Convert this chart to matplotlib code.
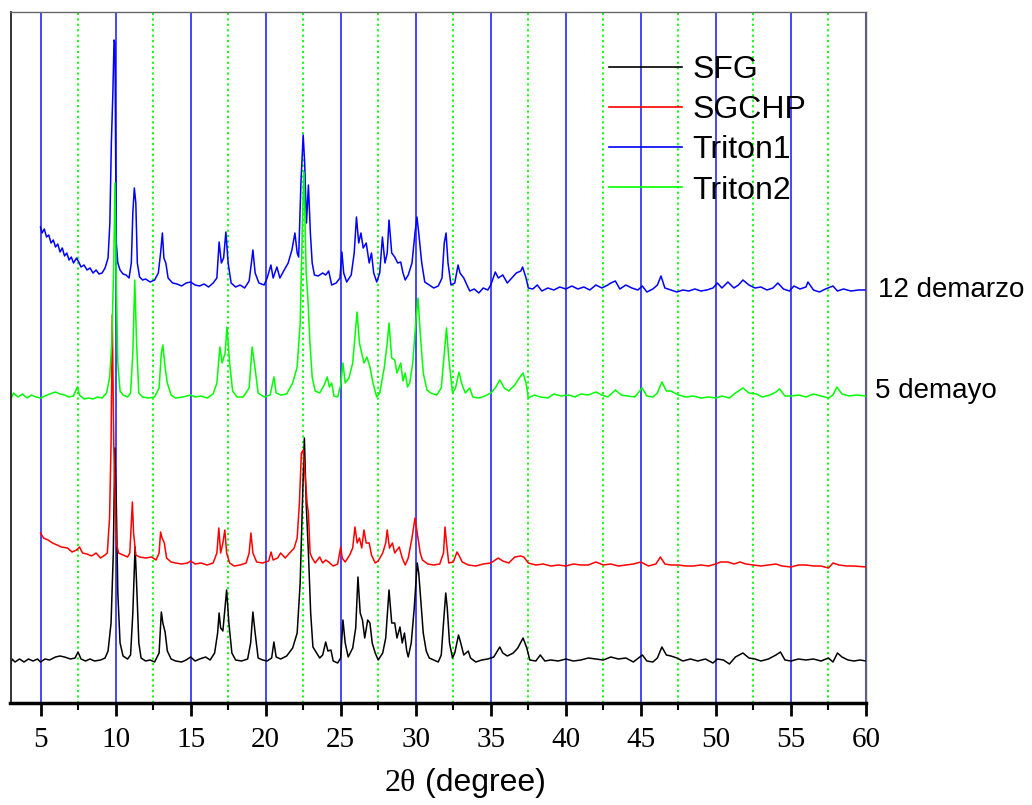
import numpy as np
import matplotlib
matplotlib.use("Agg")
import matplotlib.pyplot as plt
from matplotlib.ticker import MultipleLocator

# ---------------- data (2theta in degrees, intensity in a.u., curves already offset) -------------
sfg_points = [
    (3.0, 38), (3.1, 44), (3.3, 41), (3.6, 44), (3.9, 41), (4.2, 44), (4.5, 42), (4.8, 44), (5.0, 41),
    (5.3, 44), (5.6, 43), (6.0, 46), (6.3, 47), (6.6, 46), (7.0, 44), (7.3, 45), (7.5, 51), (7.7, 44),
    (8.0, 42), (8.3, 44), (8.6, 42), (9.0, 43), (9.3, 45), (9.5, 52), (9.7, 80), (9.85, 150), (9.95, 255),
    (10.05, 200), (10.15, 110), (10.3, 60), (10.5, 47), (10.8, 44), (11.0, 48), (11.15, 90), (11.3, 156),
    (11.4, 120), (11.55, 60), (11.7, 45), (12.0, 42), (12.3, 43), (12.6, 41), (12.9, 50), (13.05, 91),
    (13.15, 80), (13.3, 71), (13.45, 52), (13.7, 44), (14.0, 42), (14.4, 41), (14.7, 43), (15.0, 46),
    (15.3, 42), (15.6, 44), (16.0, 46), (16.3, 43), (16.6, 50), (16.8, 70), (16.9, 90), (17.0, 75),
    (17.15, 72), (17.4, 113), (17.55, 80), (17.75, 50), (18.0, 43), (18.4, 42), (18.8, 44), (19.0, 60),
    (19.15, 91), (19.3, 70), (19.5, 45), (19.8, 43), (20.1, 42), (20.4, 45), (20.55, 61), (20.7, 46),
    (21.0, 44), (21.4, 47), (21.8, 55), (22.1, 70), (22.3, 120), (22.45, 200), (22.58, 265), (22.7, 200),
    (22.85, 150), (23.0, 90), (23.15, 56), (23.4, 50), (23.6, 45), (23.8, 48), (24.0, 61), (24.15, 52),
    (24.35, 53), (24.5, 42), (24.8, 40), (25.0, 45), (25.15, 83), (25.3, 60), (25.5, 46), (25.8, 55),
    (26.0, 75), (26.15, 126), (26.3, 90), (26.45, 83), (26.6, 65), (26.8, 83), (26.95, 80), (27.1, 60),
    (27.3, 50), (27.5, 43), (27.8, 50), (28.0, 65), (28.22, 113), (28.4, 80), (28.6, 80), (28.75, 65),
    (28.95, 76), (29.1, 60), (29.25, 70), (29.4, 52), (29.5, 46), (29.7, 60), (29.9, 95), (30.1, 140),
    (30.2, 130), (30.35, 100), (30.5, 70), (30.7, 52), (30.9, 45), (31.2, 43), (31.5, 41), (31.7, 48),
    (31.85, 80), (32.0, 110), (32.1, 95), (32.25, 60), (32.45, 45), (32.6, 50), (32.85, 68), (33.0, 60),
    (33.2, 48), (33.5, 52), (33.65, 45), (34.0, 41), (34.4, 43), (34.8, 44), (35.2, 46), (35.6, 56),
    (35.8, 50), (36.1, 47), (36.5, 50), (36.8, 55), (37.15, 65), (37.4, 55), (37.6, 43), (38.0, 42),
    (38.3, 48), (38.6, 42), (39.0, 43), (39.5, 42), (40.0, 44), (40.5, 42), (41.0, 43), (41.5, 45),
    (42.0, 44), (42.5, 43), (43.0, 46), (43.5, 44), (44.0, 45), (44.5, 41), (45.1, 48), (45.4, 42),
    (45.8, 41), (46.1, 45), (46.4, 56), (46.7, 48), (47.0, 47), (47.4, 45), (47.8, 42), (48.3, 44),
    (48.8, 42), (49.3, 44), (49.8, 40), (50.1, 44), (50.5, 43), (50.9, 39), (51.3, 46), (51.8, 50),
    (52.2, 45), (52.6, 44), (53.0, 42), (53.5, 44), (54.0, 48), (54.3, 51), (54.6, 43), (55.0, 42),
    (55.5, 44), (56.0, 43), (56.5, 44), (57.0, 42), (57.5, 45), (57.8, 41), (58.1, 50), (58.4, 46),
    (58.8, 43), (59.2, 42), (59.6, 43), (60.0, 42),
]

sgchp_points = [
    (5.0, 170), (5.2, 165), (5.5, 163), (5.8, 160), (6.1, 158), (6.4, 156), (6.8, 155), (7.1, 151),
    (7.4, 153), (7.6, 156), (7.8, 150), (8.1, 149), (8.4, 147), (8.7, 150), (9.0, 145), (9.3, 148),
    (9.45, 150), (9.6, 185), (9.7, 260), (9.78, 388), (9.88, 260), (9.98, 200), (10.05, 160), (10.2, 150),
    (10.5, 148), (10.8, 146), (10.95, 150), (11.05, 180), (11.12, 201), (11.2, 170), (11.35, 148),
    (11.6, 146), (12.0, 145), (12.4, 146), (12.7, 143), (12.9, 150), (13.0, 171), (13.1, 165),
    (13.25, 160), (13.4, 145), (13.7, 141), (14.0, 140), (14.4, 139), (14.8, 140), (15.0, 142),
    (15.3, 139), (15.7, 140), (16.1, 138), (16.5, 140), (16.75, 150), (16.88, 175), (17.0, 150),
    (17.15, 160), (17.28, 173), (17.4, 150), (17.6, 140), (17.9, 137), (18.3, 138), (18.7, 140),
    (18.9, 150), (19.02, 170), (19.15, 150), (19.4, 141), (19.8, 140), (20.2, 142), (20.36, 151),
    (20.5, 143), (20.8, 145), (21.0, 150), (21.3, 145), (21.6, 150), (21.9, 155), (22.1, 165),
    (22.25, 200), (22.38, 250), (22.5, 253), (22.62, 230), (22.76, 200), (22.85, 190), (22.96, 150),
    (23.1, 145), (23.3, 140), (23.6, 146), (23.8, 140), (24.0, 143), (24.2, 141), (24.5, 137),
    (24.8, 139), (25.0, 156), (25.1, 145), (25.3, 141), (25.6, 148), (25.8, 155), (25.95, 176),
    (26.1, 160), (26.25, 165), (26.4, 155), (26.55, 173), (26.7, 160), (26.9, 160), (27.05, 148),
    (27.3, 140), (27.5, 142), (27.8, 150), (28.0, 160), (28.1, 173), (28.25, 155), (28.45, 160),
    (28.6, 150), (28.9, 156), (29.1, 145), (29.3, 138), (29.5, 145), (29.75, 165), (29.95, 185),
    (30.1, 170), (30.3, 150), (30.45, 143), (30.8, 139), (31.2, 138), (31.6, 139), (31.85, 150),
    (31.95, 176), (32.05, 160), (32.2, 140), (32.5, 141), (32.75, 151), (32.9, 147), (33.1, 141),
    (33.5, 138), (34.0, 137), (34.5, 139), (35.0, 140), (35.5, 145), (35.8, 142), (36.2, 140),
    (36.6, 146), (37.0, 147), (37.2, 146), (37.5, 140), (38.0, 138), (38.5, 139), (39.0, 137),
    (39.5, 138), (40.0, 137), (40.5, 139), (41.0, 138), (41.5, 138), (42.0, 141), (42.5, 138),
    (43.0, 139), (43.5, 137), (44.0, 138), (44.5, 139), (45.0, 141), (45.5, 137), (46.0, 139),
    (46.3, 146), (46.6, 139), (47.0, 138), (47.5, 138), (48.0, 137), (48.5, 137), (49.0, 138),
    (49.5, 137), (50.0, 139), (50.3, 141), (50.8, 141), (51.2, 139), (51.6, 141), (52.0, 139),
    (52.5, 138), (53.0, 137), (53.5, 138), (54.0, 139), (54.4, 137), (55.0, 136), (55.5, 138),
    (56.0, 138), (56.5, 137), (57.0, 137), (57.5, 135), (57.8, 140), (58.2, 138), (58.7, 137),
    (59.2, 137), (60.0, 136),
]

triton1_points = [
    (5.0, 476), (5.1, 470), (5.25, 474), (5.4, 466), (5.55, 468), (5.7, 460), (5.85, 463), (6.0, 456),
    (6.15, 459), (6.3, 451), (6.45, 455), (6.6, 447), (6.75, 450), (6.9, 443), (7.05, 446), (7.2, 440),
    (7.4, 445), (7.55, 441), (7.7, 436), (7.9, 438), (8.1, 433), (8.3, 435), (8.5, 430), (8.7, 433),
    (8.9, 429), (9.1, 430), (9.3, 435), (9.5, 445), (9.62, 480), (9.72, 560), (9.82, 610), (9.9, 663),
    (9.96, 660), (10.0, 560), (10.05, 460), (10.15, 440), (10.3, 433), (10.5, 429), (10.7, 428),
    (10.9, 425), (11.05, 440), (11.15, 490), (11.25, 515), (11.35, 500), (11.45, 440), (11.6, 426),
    (11.8, 423), (12.0, 424), (12.3, 421), (12.6, 423), (12.85, 430), (13.0, 450), (13.12, 470),
    (13.22, 445), (13.35, 440), (13.5, 425), (13.8, 420), (14.1, 419), (14.4, 417), (14.7, 420),
    (15.0, 421), (15.3, 418), (15.6, 417), (15.9, 419), (16.2, 416), (16.5, 420), (16.75, 425),
    (16.9, 461), (17.05, 440), (17.2, 445), (17.35, 471), (17.5, 440), (17.7, 420), (18.0, 416),
    (18.3, 418), (18.6, 415), (18.9, 422), (19.05, 440), (19.15, 453), (19.3, 430), (19.55, 420),
    (19.9, 418), (20.1, 425), (20.35, 438), (20.5, 425), (20.75, 436), (20.95, 425), (21.2, 432),
    (21.5, 440), (21.75, 453), (21.95, 470), (22.1, 450), (22.2, 446), (22.35, 520), (22.5, 568),
    (22.6, 540), (22.72, 480), (22.85, 518), (22.98, 470), (23.1, 440), (23.25, 428), (23.5, 427),
    (23.8, 430), (24.0, 428), (24.2, 432), (24.4, 418), (24.7, 420), (24.95, 425), (25.08, 451),
    (25.2, 430), (25.4, 421), (25.7, 428), (25.9, 450), (26.05, 486), (26.2, 460), (26.35, 470),
    (26.5, 455), (26.7, 460), (26.9, 440), (27.05, 450), (27.2, 430), (27.4, 421), (27.6, 430),
    (27.78, 466), (27.95, 440), (28.1, 450), (28.22, 483), (28.4, 450), (28.6, 446), (28.8, 440),
    (29.0, 441), (29.15, 430), (29.3, 423), (29.5, 428), (29.75, 440), (29.95, 470), (30.08, 486),
    (30.2, 470), (30.4, 440), (30.6, 421), (30.9, 418), (31.2, 415), (31.5, 417), (31.75, 425),
    (31.9, 460), (32.02, 470), (32.15, 440), (32.35, 418), (32.6, 420), (32.82, 438), (32.95, 430),
    (33.2, 425), (33.35, 420), (33.6, 412), (33.9, 414), (34.2, 410), (34.5, 415), (34.8, 413),
    (35.0, 418), (35.3, 431), (35.5, 425), (35.8, 428), (36.1, 420), (36.4, 425), (36.7, 430),
    (37.0, 432), (37.12, 436), (37.35, 425), (37.5, 415), (37.8, 414), (38.1, 418), (38.4, 412),
    (38.8, 415), (39.2, 413), (39.6, 416), (40.0, 414), (40.4, 417), (40.8, 414), (41.2, 416),
    (41.6, 413), (42.0, 418), (42.4, 415), (42.8, 418), (43.0, 420), (43.3, 422), (43.6, 414),
    (44.0, 418), (44.4, 415), (44.8, 413), (45.1, 417), (45.4, 411), (45.8, 414), (46.1, 418),
    (46.34, 427), (46.6, 415), (47.0, 413), (47.4, 411), (47.8, 413), (48.2, 412), (48.6, 414),
    (49.0, 412), (49.4, 413), (49.8, 415), (50.1, 420), (50.4, 415), (50.8, 421), (51.2, 415),
    (51.5, 418), (51.8, 423), (52.2, 418), (52.6, 415), (53.0, 416), (53.4, 413), (53.8, 415),
    (54.13, 420), (54.5, 414), (54.9, 412), (55.2, 417), (55.6, 414), (56.0, 416), (56.13, 421),
    (56.5, 413), (56.9, 411), (57.3, 414), (57.8, 417), (58.1, 412), (58.5, 414), (59.0, 412),
    (59.5, 413), (60.0, 413),
]

triton2_points = [
    (3.0, 303), (3.2, 310), (3.5, 306), (3.8, 309), (4.1, 305), (4.4, 308), (4.7, 306), (5.0, 305),
    (5.3, 307), (5.6, 309), (6.0, 311), (6.3, 309), (6.6, 308), (6.9, 306), (7.2, 307), (7.45, 316),
    (7.6, 308), (7.9, 304), (8.2, 305), (8.5, 304), (8.8, 306), (9.1, 305), (9.4, 310), (9.6, 325),
    (9.75, 360), (9.88, 440), (9.96, 520), (10.05, 420), (10.15, 340), (10.3, 312), (10.5, 308),
    (10.8, 306), (11.0, 310), (11.15, 350), (11.28, 423), (11.4, 360), (11.55, 310), (11.8, 306),
    (12.2, 305), (12.6, 306), (12.9, 315), (13.05, 350), (13.15, 358), (13.3, 336), (13.45, 320),
    (13.7, 308), (14.0, 305), (14.5, 306), (15.0, 308), (15.3, 306), (15.7, 307), (16.1, 305),
    (16.5, 309), (16.75, 320), (16.95, 356), (17.1, 340), (17.3, 350), (17.42, 376), (17.6, 340),
    (17.8, 312), (18.1, 306), (18.5, 306), (18.9, 315), (19.1, 356), (19.25, 340), (19.5, 310),
    (19.9, 306), (20.3, 308), (20.55, 326), (20.7, 310), (21.0, 308), (21.4, 309), (21.8, 320),
    (22.1, 336), (22.3, 380), (22.45, 480), (22.55, 531), (22.7, 430), (22.82, 403), (22.95, 360),
    (23.1, 326), (23.3, 312), (23.6, 310), (23.9, 318), (24.1, 326), (24.25, 316), (24.4, 320),
    (24.55, 307), (24.8, 306), (25.0, 318), (25.15, 340), (25.3, 320), (25.55, 325), (25.8, 340),
    (26.09, 391), (26.25, 360), (26.4, 350), (26.55, 340), (26.75, 346), (26.95, 336), (27.15, 320),
    (27.4, 306), (27.6, 310), (27.9, 335), (28.1, 360), (28.22, 380), (28.4, 345), (28.6, 343),
    (28.75, 330), (29.0, 340), (29.15, 322), (29.3, 330), (29.45, 316), (29.6, 320), (29.8, 340),
    (30.0, 380), (30.15, 405), (30.3, 370), (30.5, 330), (30.75, 313), (31.0, 310), (31.4, 308),
    (31.7, 315), (31.9, 350), (32.05, 375), (32.2, 345), (32.45, 310), (32.65, 315), (32.88, 331),
    (33.05, 320), (33.3, 310), (33.6, 315), (33.8, 306), (34.2, 305), (34.6, 307), (35.0, 310),
    (35.3, 315), (35.6, 323), (35.9, 315), (36.2, 312), (36.6, 318), (36.9, 325), (37.15, 330),
    (37.35, 320), (37.5, 305), (37.9, 308), (38.3, 306), (38.8, 305), (39.2, 309), (39.7, 307),
    (40.2, 308), (40.6, 306), (41.0, 309), (41.5, 308), (42.0, 311), (42.4, 308), (42.8, 306),
    (43.3, 313), (43.7, 308), (44.1, 307), (44.6, 306), (45.08, 315), (45.4, 307), (45.8, 306),
    (46.1, 310), (46.4, 321), (46.7, 312), (47.0, 312), (47.5, 308), (48.0, 306), (48.5, 307),
    (49.0, 305), (49.5, 306), (50.0, 305), (50.4, 307), (50.9, 305), (51.3, 310), (51.8, 315),
    (52.2, 310), (52.7, 309), (53.1, 306), (53.6, 308), (54.0, 311), (54.25, 314), (54.6, 307),
    (55.0, 307), (55.5, 308), (56.0, 306), (56.5, 309), (57.0, 307), (57.5, 305), (57.8, 308),
    (58.06, 316), (58.4, 309), (58.9, 307), (59.4, 308), (60.0, 307),
]

series_names = ["SFG", "SGCHP", "Triton1", "Triton2"]
series_colors = ["#000000", "#ff0000", "#0000ff", "#00ff00"]
series_points = [sfg_points, sgchp_points, triton1_points, triton2_points]

major_ticks = [5, 10, 15, 20, 25, 30, 35, 40, 45, 50, 55, 60]
side_labels = ["12 demarzo", "5 demayo"]

# ---------------- figure ----------------
W, H = 1032, 805
fig = plt.figure(figsize=(W / 100, H / 100), dpi=100)
ax = fig.add_axes([10.5 / W, 1 - 703 / H, (866 - 10.5) / W, (703 - 12) / H])

for name, color, pts in zip(series_names, series_colors, series_points):
    arr = np.array(pts, dtype=float)
    ax.plot(arr[:, 0], arr[:, 1], color=color, lw=1.1, label=name)

ax.set_xlim(3, 60)
ax.set_ylim(0, 691)
ax.set_xticks(major_ticks)
ax.xaxis.set_minor_locator(MultipleLocator(2.5))
ax.set_yticks([])

ax.grid(which="major", axis="x", color="#0000ff", lw=1.2, alpha=0.85)
ax.grid(which="minor", axis="x", color="#00ff00", lw=1.3, ls=(0, (1.2, 1.8)))

ax.tick_params(axis="x", which="major", direction="out", length=9, width=2, pad=8,
               labelsize=21, labelfontfamily="Liberation Serif")
ax.tick_params(axis="x", which="minor", direction="out", length=5, width=1.5)

ax.spines["bottom"].set_linewidth(2.5)
ax.spines["left"].set_linewidth(1.3)
ax.spines["left"].set_color("#222222")
ax.spines["top"].set_linewidth(1.0)
ax.spines["top"].set_color("#666666")
ax.spines["right"].set_linewidth(1.0)
ax.spines["right"].set_color("#666666")

leg = ax.legend(loc="upper left", bbox_to_anchor=(609 / W, 1 - 55 / H),
                bbox_transform=fig.transFigure, frameon=False,
                prop={"family": "Liberation Sans", "size": 23},
                handlelength=2.3, handletextpad=0.3, labelspacing=0.32,
                borderpad=0, borderaxespad=0)
for line in leg.get_lines():
    line.set_linewidth(1.2)

fig.text(878 / W, 1 - 297 / H, side_labels[0], family="Liberation Sans", size=20, va="baseline")
fig.text(875 / W, 1 - 398 / H, side_labels[1], family="Liberation Sans", size=20, va="baseline")

fig.text(416 / W, 1 - 791 / H, "2θ", family="Liberation Serif", size=23, ha="right", va="baseline")
fig.text(425 / W, 1 - 791 / H, "(degree)", family="Liberation Sans", size=23, ha="left", va="baseline")

fig.savefig("out.png", dpi=100)
